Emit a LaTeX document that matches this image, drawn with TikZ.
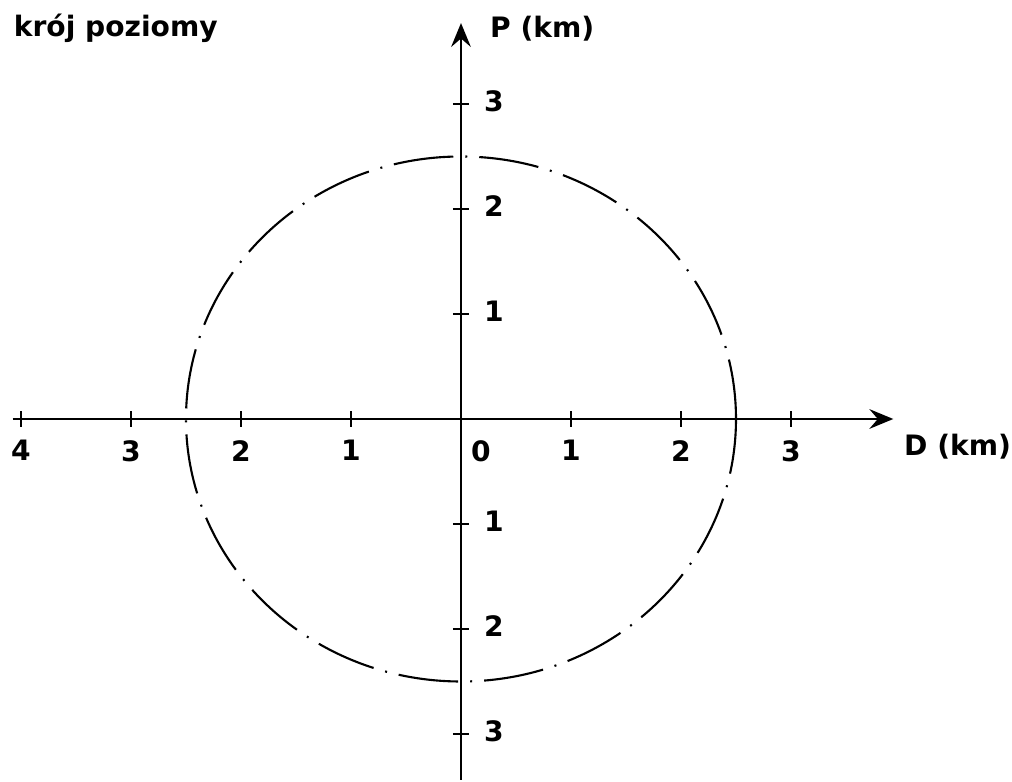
\documentclass[tikz,border=0pt]{standalone}
\usepackage{fontspec}
\setmainfont{DejaVu Sans}
\usetikzlibrary{arrows.meta}

\begin{document}
\begin{tikzpicture}[x=2.75cm, y=2.625cm, font=\bfseries\fontsize{20}{24}\selectfont, line width=1.7pt,
  axis/.style={-{Stealth[length=17pt, width=14pt, inset=6pt]}},
  tickmark/.style={line width=1.7pt},
  lbl/.style={inner sep=0pt},
  circ/.style={line width=1.5pt, dash pattern=on 1.5cm off 0.3cm on 0.05cm off 0.3cm}]
\useasboundingbox (-4.1909,-3.4571) rectangle (5.0091,3.9905);
% axes
\coordinate (o) at (0,0);
\coordinate (xl) at (-4.077,0);
\coordinate (xr) at (3.93,0);
\coordinate (yb) at (0,-3.438);
\coordinate (yt) at (0,3.771);
\draw[axis] (xl) -- (xr);
\draw[axis] (yb) -- (yt);
% ticks on D axis
\draw[tickmark] (-4,-0.076) -- (-4,0.076);
\draw[tickmark] (-3,-0.076) -- (-3,0.076);
\draw[tickmark] (-2,-0.076) -- (-2,0.076);
\draw[tickmark] (-1,-0.076) -- (-1,0.076);
\draw[tickmark] (1,-0.076) -- (1,0.076);
\draw[tickmark] (2,-0.076) -- (2,0.076);
\draw[tickmark] (3,-0.076) -- (3,0.076);
% ticks on P axis
\draw[tickmark] (-0.073,3) -- (0.073,3);
\draw[tickmark] (-0.073,2) -- (0.073,2);
\draw[tickmark] (-0.073,1) -- (0.073,1);
\draw[tickmark] (-0.073,-1) -- (0.073,-1);
\draw[tickmark] (-0.073,-2) -- (0.073,-2);
\draw[tickmark] (-0.073,-3) -- (0.073,-3);
% labels on D axis
\node[lbl, anchor=north] (dm4) at (-4,-0.19) {4};
\node[lbl, anchor=north] (dm3) at (-3,-0.19) {3};
\node[lbl, anchor=north] (dm2) at (-2,-0.19) {2};
\node[lbl, anchor=north] (dm1) at (-1,-0.19) {1};
\node[lbl, anchor=north] (d0) at (0.18,-0.19) {0};
\node[lbl, anchor=north] (d1) at (1,-0.19) {1};
\node[lbl, anchor=north] (d2) at (2,-0.19) {2};
\node[lbl, anchor=north] (d3) at (3,-0.19) {3};
% labels on P axis
\node[lbl, anchor=west] (p3) at (0.2,3.03) {3};
\node[lbl, anchor=west] (p2) at (0.2,2.03) {2};
\node[lbl, anchor=west] (p1) at (0.2,1.03) {1};
\node[lbl, anchor=west] (pm1) at (0.2,-0.97) {1};
\node[lbl, anchor=west] (pm2) at (0.2,-1.97) {2};
\node[lbl, anchor=west] (pm3) at (0.2,-2.97) {3};
% axis titles
\node[lbl, anchor=base west] (dtitle) at (4.018,-0.343) {D (km)};
\node[lbl, anchor=base west] (ptitle) at (0.255,3.629) {P (km)};
\node[lbl, anchor=base west] (title) at (-4.075,3.64) {krój poziomy};
% range circle
\draw[circ] (o) circle (2.5);
\end{tikzpicture}
\end{document}
